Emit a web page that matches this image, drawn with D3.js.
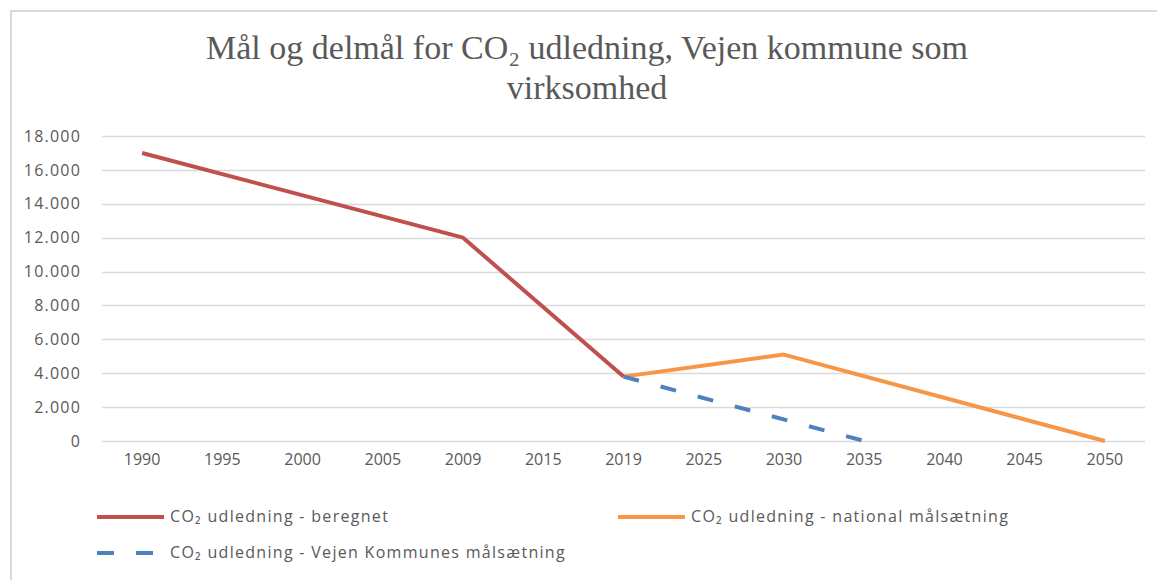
<!DOCTYPE html>
<html>
<head>
<meta charset="utf-8">
<script src="https://cdn.jsdelivr.net/npm/d3@7"></script>
<style>
  body { margin: 0; background: #fff; }
  svg { display: block; }
</style>
</head>
<body>
<div id="chart"></div>
<script>
// kategorier (årstal) - aksen er kategorisk, ikke tidsskala
var years = ["1990", "1995", "2000", "2005", "2009", "2015", "2019", "2025", "2030", "2035", "2040", "2045", "2050"];

// serier, null = tom celle (linjen forbindes hen over)
var beregnet = [17000, null, null, null, 12000, null, 3800, null, null, null, null, null, null];
var national = [null, null, null, null, null, null, 3800, null, 5100, null, null, null, 0];
var vejen = [null, null, null, null, null, null, 3800, null, null, 0, null, null, null];

var yTicks = [0, 2000, 4000, 6000, 8000, 10000, 12000, 14000, 16000, 18000];

var seriesNames = [
  "CO\u2082 udledning - beregnet",
  "CO\u2082 udledning - national målsætning",
  "CO\u2082 udledning - Vejen Kommunes målsætning"
];

var width = 1157;
var height = 580;
var margin = { left: 102, right: 12, top: 136, bottom: 139 };
var labelFont = "'Open Sans', sans-serif";

var svg = d3.select("#chart").append("svg")
  .attr("width", width)
  .attr("height", height);

// ramme om diagrammet
svg.append("rect")
  .attr("x", 11).attr("y", 11)
  .attr("width", width + 20).attr("height", height + 20)
  .attr("fill", "none")
  .attr("stroke", "#d9d9d9")
  .attr("stroke-width", 2);

// titel
var title = svg.append("text")
  .attr("text-anchor", "middle")
  .attr("fill", "#595959")
  .style("font-family", "'Liberation Serif', 'DejaVu Serif', serif")
  .style("font-size", "34px");
title.append("tspan").attr("x", 587).attr("y", 59)
  .text("Mål og delmål  for CO\u2082 udledning, Vejen kommune som");
title.append("tspan").attr("x", 587).attr("y", 99).text("virksomhed");

var x = d3.scaleBand()
  .domain(years)
  .range([margin.left, width - margin.right]);

var y = d3.scaleLinear()
  .domain([0, 18000])
  .range([height - margin.bottom, margin.top]);

var fmt = function (d) {
  return d3.format(",")(d).replace(/,/g, ".");
};

// gitterlinjer
svg.append("g")
  .selectAll("line")
  .data(yTicks)
  .enter()
  .append("line")
  .attr("x1", margin.left)
  .attr("x2", width - margin.right)
  .attr("y1", function (d) { return Math.round(y(d)) + 0.5; })
  .attr("y2", function (d) { return Math.round(y(d)) + 0.5; })
  .attr("stroke", "#d9d9d9")
  .attr("stroke-width", 1.3);

// y-akse labels
var yAxis = svg.append("g")
  .attr("transform", "translate(" + (margin.left - 21) + ",0)")
  .call(d3.axisLeft(y).tickValues(yTicks).tickFormat(fmt).tickSize(0).tickPadding(0));
yAxis.select(".domain").remove();
yAxis.selectAll("text")
  .attr("fill", "#595959")
  .style("font-family", labelFont)
  .style("font-size", "16px")
  .style("letter-spacing", "1.2px");

// x-akse labels
var xAxis = svg.append("g")
  .attr("transform", "translate(0," + (height - margin.bottom + 13) + ")")
  .call(d3.axisBottom(x).tickSize(0).tickPadding(0));
xAxis.select(".domain").remove();
xAxis.selectAll("text")
  .attr("fill", "#595959")
  .style("font-family", labelFont)
  .style("font-size", "16px");

var line = d3.line()
  .x(function (d) { return x(d.year) + x.bandwidth() / 2; })
  .y(function (d) { return y(d.value); });

function points(values) {
  var pts = [];
  for (var i = 0; i < years.length; ++i) {
    if (values[i] !== null) {
      pts.push({ year: years[i], value: values[i] });
    }
  }
  return pts;
}

var series = [
  { name: seriesNames[0], values: beregnet, color: "#c0504d", dash: null },
  { name: seriesNames[1], values: national, color: "#f79646", dash: null },
  { name: seriesNames[2], values: vejen, color: "#4f81bd", dash: "16,22.4" }
];

// tegn orange og blå først, rød ovenpå
[series[1], series[2], series[0]].forEach(function (s) {
  svg.append("path")
    .datum(points(s.values))
    .attr("d", line)
    .attr("fill", "none")
    .attr("stroke", s.color)
    .attr("stroke-width", 4)
    .attr("stroke-linejoin", "round")
    .attr("stroke-dasharray", s.dash);
});

// legende
var legendPos = [
  { x: 97, y: 517 },
  { x: 618, y: 517 },
  { x: 97, y: 553 }
];
series.forEach(function (s, i) {
  var g = svg.append("g")
    .attr("transform", "translate(" + legendPos[i].x + "," + legendPos[i].y + ")");
  g.append("line")
    .attr("x1", 0).attr("x2", 67)
    .attr("y1", 0).attr("y2", 0)
    .attr("stroke", s.color)
    .attr("stroke-width", 4)
    .attr("stroke-dasharray", s.dash ? "17,22" : null);
  g.append("text")
    .attr("x", 73)
    .attr("y", 5)
    .attr("fill", "#595959")
    .style("font-family", labelFont)
    .style("font-size", "16px")
    .style("letter-spacing", "1.3px")
    .text(s.name);
});
</script>
</body>
</html>
